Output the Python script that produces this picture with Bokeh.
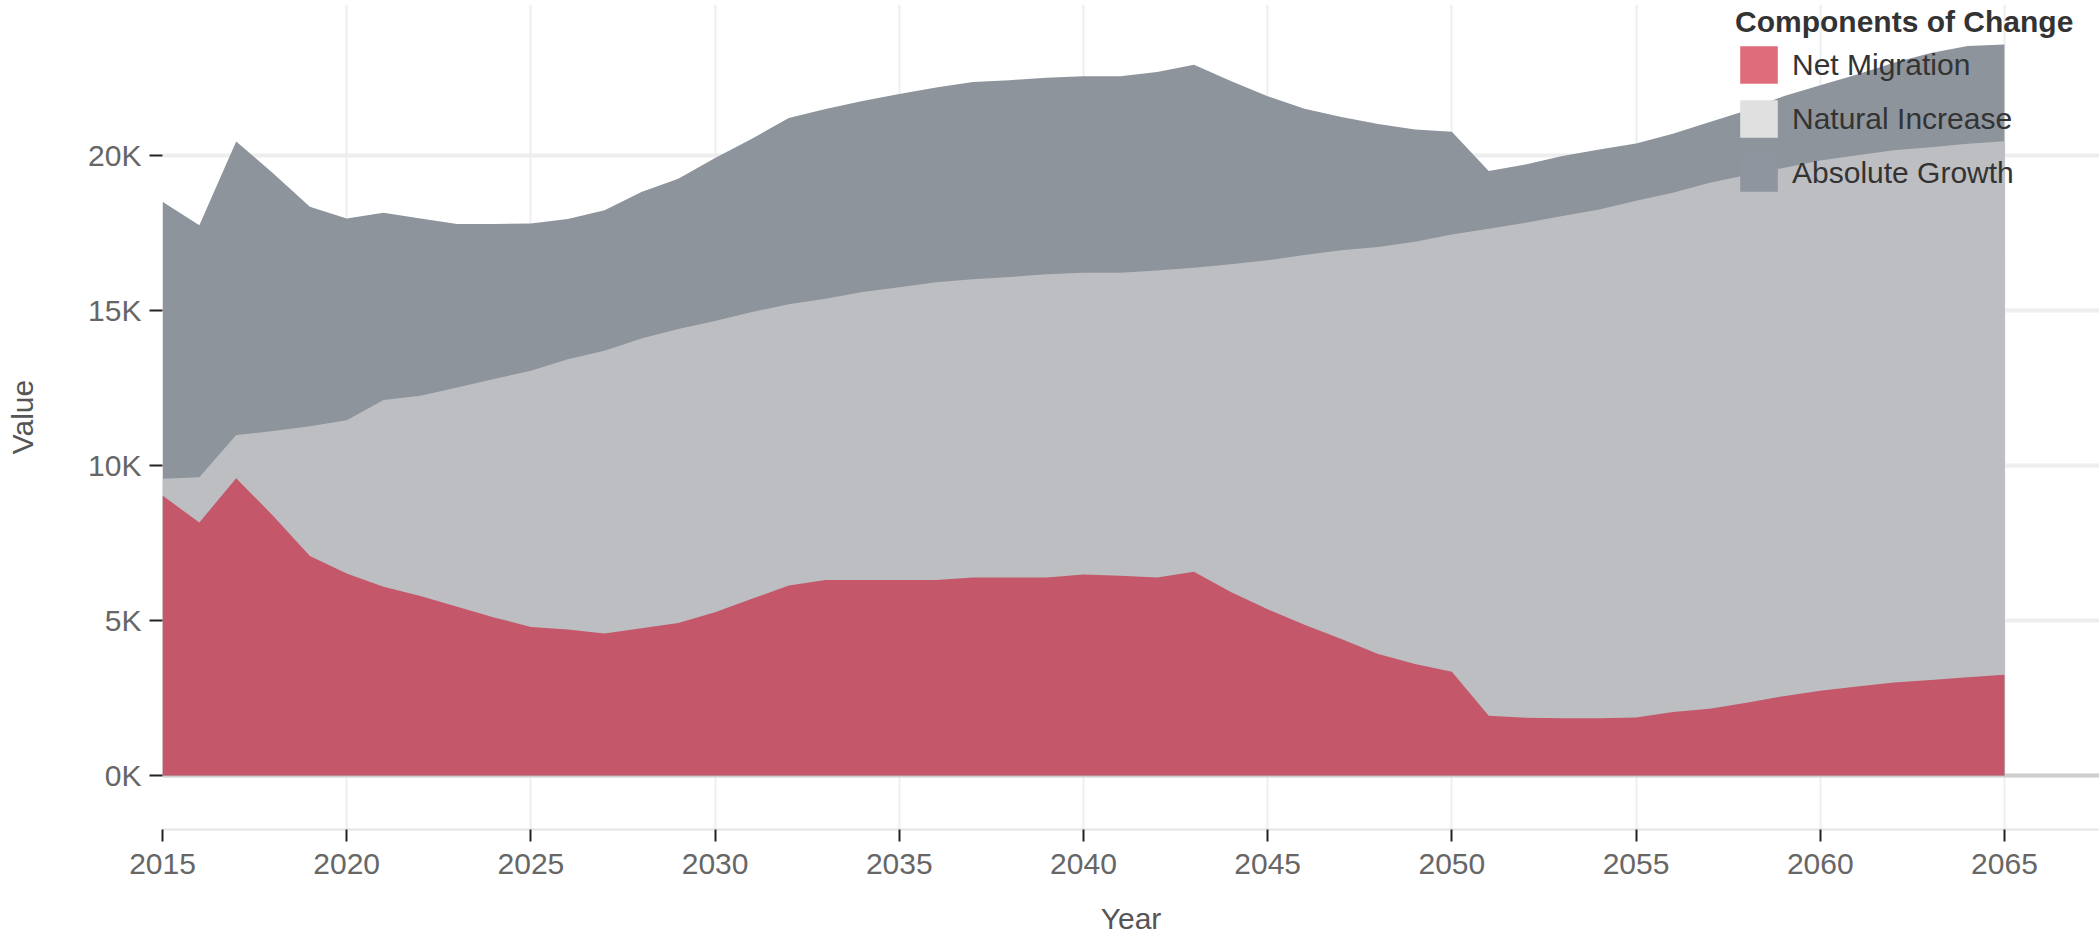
from bokeh.plotting import figure
from bokeh.models import (Range1d, FixedTicker, CustomJSTickFormatter, Legend, LegendItem,
                          Span, ColumnDataSource)
from bokeh.embed import file_html
from bokeh.resources import INLINE

# ---------------- data ----------------
years = list(range(2015, 2066))

net_migration = [9030, 8160, 9590, 8380, 7080, 6520, 6090, 5790, 5440, 5100,
                 4790, 4710, 4580, 4750, 4920, 5270, 5700, 6130, 6310, 6310,
                 6310, 6310, 6390, 6390, 6390, 6480, 6440, 6390, 6570, 5920,
                 5360, 4860, 4400, 3920, 3600, 3350, 1930, 1860, 1850, 1850,
                 1870, 2050, 2150, 2350, 2560, 2730, 2870, 3000, 3080, 3170,
                 3250]

natural_increase = [9570, 9620, 10980, 11110, 11270, 11460, 12110, 12250, 12520, 12790,
                    13060, 13430, 13700, 14100, 14400, 14660, 14950, 15200, 15380, 15600,
                    15750, 15910, 16010, 16080, 16170, 16220, 16220, 16290, 16380, 16490,
                    16620, 16790, 16940, 17050, 17220, 17450, 17640, 17830, 18050, 18260,
                    18540, 18800, 19120, 19370, 19600, 19840, 20010, 20170, 20270, 20380,
                    20460]

absolute_growth = [18510, 17750, 20450, 19430, 18350, 17970, 18150, 17970, 17790, 17790,
                   17810, 17950, 18230, 18820, 19250, 19920, 20540, 21210, 21500, 21760,
                   21980, 22190, 22370, 22430, 22510, 22560, 22560, 22690, 22930, 22400,
                   21910, 21510, 21240, 21020, 20840, 20770, 19500, 19710, 19980, 20190,
                   20390, 20700, 21080, 21450, 21910, 22270, 22610, 22990, 23310, 23530,
                   23580]

x_ticks = [2015, 2020, 2025, 2030, 2035, 2040, 2045, 2050, 2055, 2060, 2065]
y_ticks = [0, 5000, 10000, 15000, 20000]
series_labels = ["Net Migration", "Natural Increase", "Absolute Growth"]
legend_title = "Components of Change"

# ---------------- styles ----------------
FONT = "Liberation Sans"
AREA_COLORS = {"ag": "#8e949c", "ni": "#bdbec2", "nm": "#c4586a"}
SWATCH_COLORS = ["#df6c7b", "#e0e0e0", "#8f959e"]

src = ColumnDataSource(dict(year=years, nm=net_migration, ni=natural_increase,
                            ag=absolute_growth))

p = figure(width=2099, height=937, output_backend="svg", toolbar_location=None,
           x_range=Range1d(2015, 2067.58), y_range=Range1d(-1742, 24871),
           min_border_left=162, min_border_right=0, min_border_top=4,
           min_border_bottom=108, background_fill_color="white",
           border_fill_color="white", outline_line_color=None)

# zero line (visible only where no area covers it)
p.add_layout(Span(location=0, dimension="width", line_color="#cfcfcf",
                  line_width=4, level="underlay"))

# legend swatch carriers: zero-height areas along the baseline (draw nothing)
swatches = []
for c in SWATCH_COLORS:
    r = p.varea(x="year", y1=0, y2=0, source=src, fill_color=c)
    swatches.append(r)

# overlaid areas from zero
p.varea(x="year", y1=0, y2="ag", source=src, fill_color=AREA_COLORS["ag"])
p.varea(x="year", y1=0, y2="ni", source=src, fill_color=AREA_COLORS["ni"])
p.varea(x="year", y1=0, y2="nm", source=src, fill_color=AREA_COLORS["nm"])

legend = Legend(
    items=[LegendItem(label=lab, renderers=[r]) for lab, r in zip(series_labels, swatches)],
    title=legend_title, location=(1573, 633),
    title_text_font=FONT, title_text_font_size="30px", title_text_font_style="bold",
    title_text_color="#333333", title_standoff=2,
    label_text_font=FONT, label_text_font_size="30px", label_text_color="#333333",
    glyph_width=47, glyph_height=47, label_standoff=10, spacing=7,
    padding=4, margin=0, background_fill_alpha=0, border_line_color=None)
p.add_layout(legend)

# grids
p.xgrid.ticker = FixedTicker(ticks=x_ticks)
p.ygrid.ticker = FixedTicker(ticks=y_ticks)
p.xgrid.grid_line_color = "#eeeeee"
p.xgrid.grid_line_width = 2
p.ygrid.grid_line_color = "#eeeeee"
p.ygrid.grid_line_width = 4

# x axis
xa = p.xaxis[0]
xa.ticker = FixedTicker(ticks=x_ticks)
xa.axis_label = "Year"
xa.axis_line_color = "#e6e6e6"
xa.axis_line_width = 2
xa.major_tick_line_color = "#222222"
xa.major_tick_line_width = 2
xa.major_tick_out = 12
xa.major_tick_in = 0
xa.minor_tick_line_color = None
xa.major_label_standoff = 12
xa.major_label_text_font = FONT
xa.major_label_text_font_size = "30px"
xa.major_label_text_color = "#666666"
xa.axis_label_text_font = FONT
xa.axis_label_text_font_size = "30px"
xa.axis_label_text_font_style = "normal"
xa.axis_label_text_color = "#555555"
xa.axis_label_standoff = 25

# y axis
ya = p.yaxis[0]
ya.ticker = FixedTicker(ticks=y_ticks)
ya.formatter = CustomJSTickFormatter(code="return (tick / 1000).toFixed(0) + 'K';")
ya.axis_label = "Value"
ya.axis_line_color = None
ya.major_tick_line_color = "#222222"
ya.major_tick_line_width = 2
ya.major_tick_out = 13
ya.major_tick_in = 0
ya.minor_tick_line_color = None
ya.major_label_standoff = 8
ya.major_label_text_font = FONT
ya.major_label_text_font_size = "30px"
ya.major_label_text_color = "#666666"
ya.axis_label_text_font = FONT
ya.axis_label_text_font_size = "30px"
ya.axis_label_text_font_style = "normal"
ya.axis_label_text_color = "#555555"
ya.axis_label_standoff = 46

open("out.html", "w").write(file_html(p, INLINE))
